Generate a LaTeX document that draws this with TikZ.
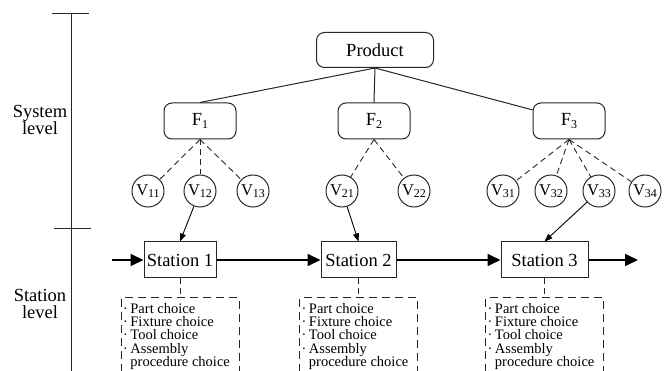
\documentclass[tikz,border=0pt]{standalone}
\usepackage{fontspec}
\setmainfont{Liberation Serif}
\newfontfamily\tms{Liberation Serif}
\usetikzlibrary{arrows.meta,calc}
\definecolor{lc}{gray}{0.15}
\newcommand\sbs[1]{\raisebox{-0.35ex}{\fontsize{12}{12}\selectfont #1}}
\begin{document}
\begin{tikzpicture}[x=1pt,y=-1pt,
  big/.style={font=\tms\fontsize{18.5}{17}\selectfont},
  rbox/.style={draw=lc, line width=1pt, rounded corners=8pt, inner sep=0pt, big},
  vc/.style={circle, draw=lc, line width=1pt, minimum size=32pt, inner sep=0pt, font=\tms\fontsize{16.5}{15}\selectfont},
  sbox/.style={draw=lc, line width=1pt, minimum height=36pt, inner sep=0pt, big},
  thin/.style={draw=lc, line width=1pt},
  dline/.style={draw=lc, line width=0.9pt, dash pattern=on 6pt off 4pt},
  lbox/.style={draw=lc, line width=1pt, dash pattern=on 8pt off 5pt},
  flow/.style={draw=black, line width=1.8pt, -{Triangle[length=13pt,width=12pt]}},
  varrow/.style={draw=black, line width=0.9pt, -{Triangle[length=8pt,width=6pt]}},
  ltext/.style={anchor=north west, inner sep=0pt, align=left, font=\tms\fontsize{14.5}{13.3}\selectfont}
]
\useasboundingbox (0,0) rectangle (670,371);
\clip (0,0) rectangle (670,371);

% level axis
\coordinate (axT) at (71,14);
\coordinate (axB) at (71,380);
\coordinate (t1a) at (52,14);
\coordinate (t1b) at (89,14);
\coordinate (t2a) at (54,229);
\coordinate (t2b) at (91,229);
\draw[thin] (axT) -- (axB);
\draw[thin] (t1a) -- (t1b);
\draw[thin] (t2a) -- (t2b);
\node[big, align=center] (sys) at (40,120) {System\\level};
\node[big, align=center] (sta) at (40,304) {Station\\level};

% hierarchy
\node[rbox, minimum width=117pt, minimum height=35pt] (P) at (375,50) {Product};
\node[rbox, minimum width=72pt, minimum height=36pt] (F1) at (200,121) {F\sbs{1}};
\node[rbox, minimum width=72pt, minimum height=36pt] (F2) at (374,121) {F\sbs{2}};
\node[rbox, minimum width=72pt, minimum height=36pt] (F3) at (569,121) {F\sbs{3}};
\draw[thin] (P.south) -- (F1.north);
\draw[thin] (P.south) -- (F2.north);
\draw[thin] (P.south) -- ($(F3.west)!0.6!(F3.north west)$);

\node[vc] (V11) at (148,191) {V\sbs{11}};
\node[vc] (V12) at (200,191) {V\sbs{12}};
\node[vc] (V13) at (253,191) {V\sbs{13}};
\node[vc] (V21) at (342,191) {V\sbs{21}};
\node[vc] (V22) at (414,191) {V\sbs{22}};
\node[vc] (V31) at (503,191) {V\sbs{31}};
\node[vc] (V32) at (551,191) {V\sbs{32}};
\node[vc] (V33) at (599,191) {V\sbs{33}};
\node[vc] (V34) at (645,191) {V\sbs{34}};

\foreach \v in {V11,V12,V13} \draw[dline] (F1.south) -- (\v);
\foreach \v in {V21,V22} \draw[dline] (F2.south) -- (\v);
\foreach \v in {V31,V32,V33,V34} \draw[dline] (F3.south) -- (\v);

% stations
\node[sbox, minimum width=72pt] (S1) at (180,260) {Station 1};
\node[sbox, minimum width=75pt] (S2) at (358.5,260) {Station 2};
\node[sbox, minimum width=87pt] (S3) at (544.5,260) {Station 3};
\coordinate (in) at (112,260);
\coordinate (out) at (638,260);
\draw[flow] (in) -- (S1);
\draw[flow] (S1) -- (S2);
\draw[flow] (S2) -- (S3);
\draw[flow] (S3) -- (out);

\draw[varrow] (V12) -- (S1.north);
\draw[varrow] (V21) -- (S2.north);
\draw[varrow] (V33) -- (S3.north);

% choice lists
\foreach \s/\cx in {S1/180, S2/358.5, S3/544.5} {
  \coordinate (\s tl) at (\cx-59,298);
  \coordinate (\s tr) at (\cx+59,298);
  \coordinate (\s bl) at (\cx-59,385);
  \coordinate (\s br) at (\cx+59,385);
  \draw[lbox] (\s bl) -- (\s tl) -- (\s tr) -- (\s br);
  \draw[dline] (\s.south) -- (\s.south |- \s tl);
  \node[ltext] (\s list) at (\cx-57,303) {·\,Part choice\\·\,Fixture choice\\·\,Tool choice\\·\,Assembly\\\phantom{·\,}procedure choice};
}
\end{tikzpicture}
\end{document}
